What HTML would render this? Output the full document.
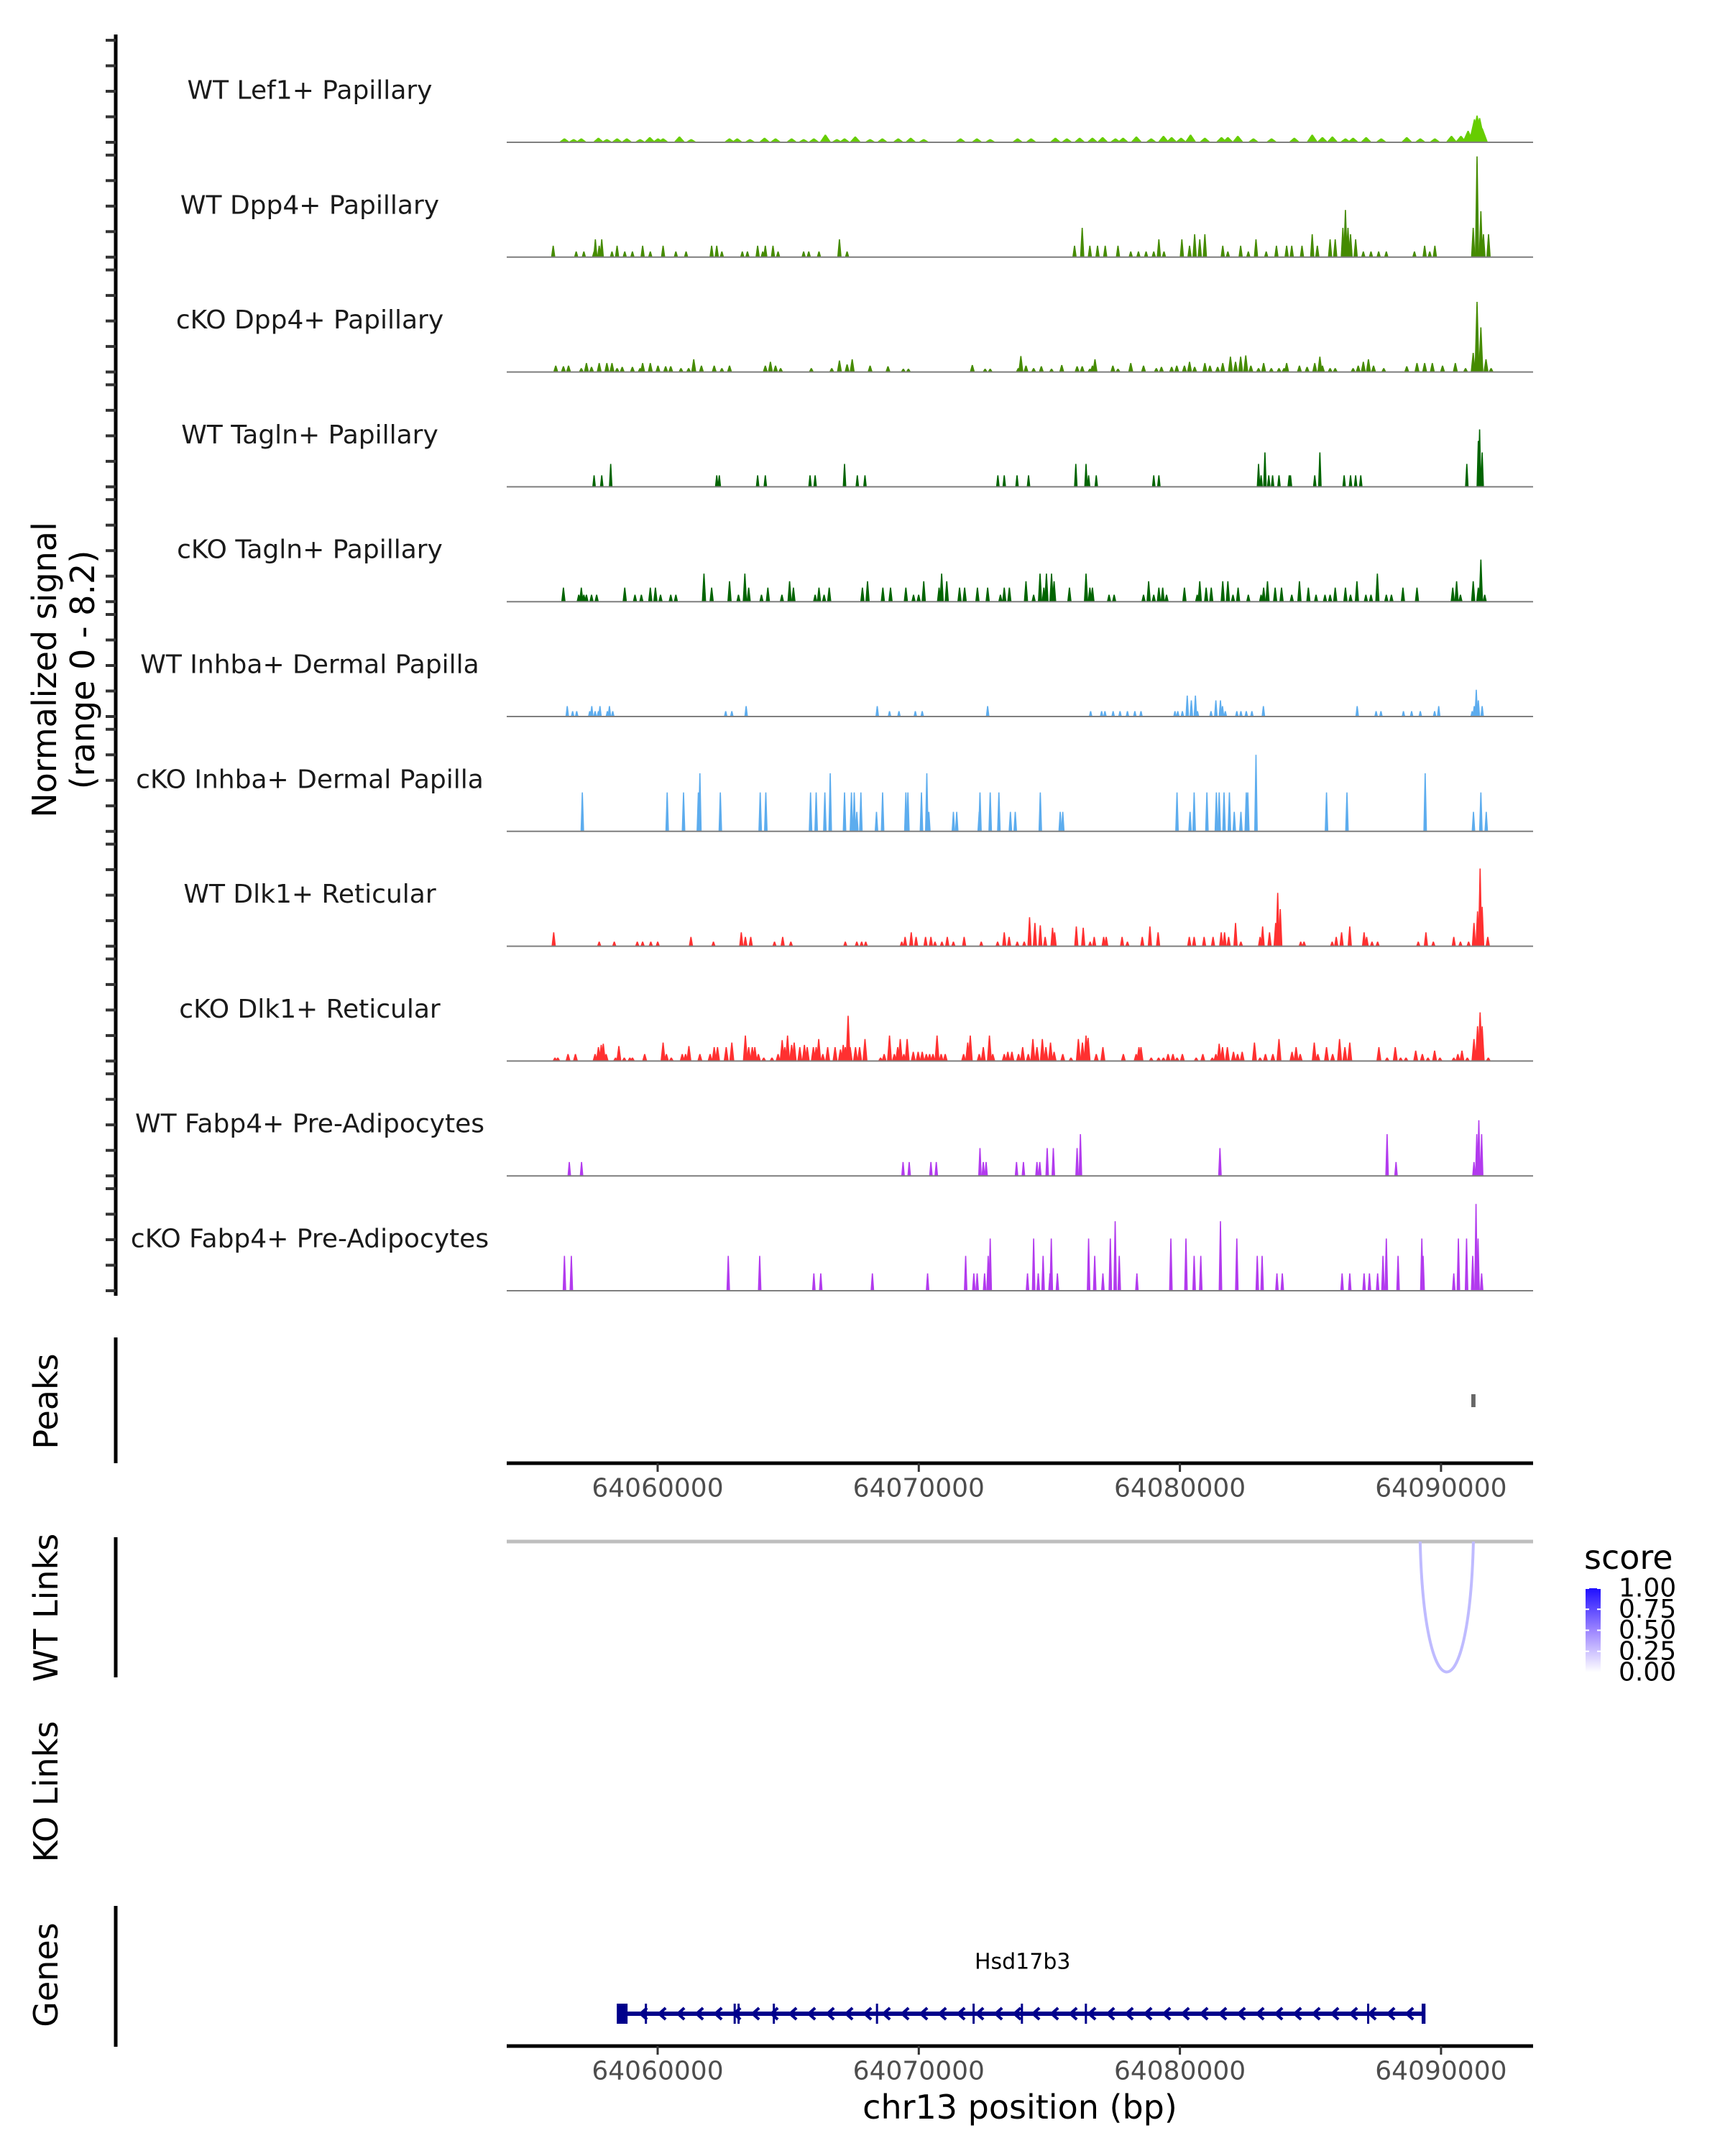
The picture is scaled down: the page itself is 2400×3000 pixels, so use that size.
<!DOCTYPE html>
<html><head><meta charset="utf-8"><title>Coverage plot chr13 Hsd17b3</title>
<style>
html,body{margin:0;padding:0;background:#fff;}
svg{display:block;}
text{font-family:"DejaVu Sans","Liberation Sans",sans-serif;}
</style></head>
<body>
<svg id="chart" xmlns="http://www.w3.org/2000/svg" width="2400" height="3000" viewBox="0 0 2400 3000">
<defs>
<linearGradient id="scoreGrad" x1="0" y1="0" x2="0" y2="1">
<stop offset="0" stop-color="#1f0fff"/><stop offset="0.5" stop-color="#9c85ff"/><stop offset="1" stop-color="#ffffff"/>
</linearGradient>
</defs>
<g id="tracks"></g>
<line x1="161" y1="48" x2="161" y2="1803" stroke="#000" stroke-width="5"/>
<g id="yticks"></g>
<text transform="translate(78,932) rotate(-90)" text-anchor="middle" font-size="46" fill="#000">Normalized signal</text>
<text transform="translate(131,932) rotate(-90)" text-anchor="middle" font-size="46" fill="#000">(range 0 - 8.2)</text>

<line x1="161" y1="1861" x2="161" y2="2036" stroke="#000" stroke-width="5"/>
<text transform="translate(80,1950) rotate(-90)" text-anchor="middle" font-size="46">Peaks</text>
<g id="peaks"></g>
<g id="xaxis1"></g>

<line x1="161" y1="2139" x2="161" y2="2334" stroke="#000" stroke-width="5"/>
<text transform="translate(80,2237) rotate(-90)" text-anchor="middle" font-size="46">WT Links</text>
<g id="links"></g>
<text transform="translate(80,2493) rotate(-90)" text-anchor="middle" font-size="46">KO Links</text>

<g>
<text x="2204" y="2167" font-size="46" dominant-baseline="central">score</text>
<rect x="2206" y="2210" width="21" height="117" fill="url(#scoreGrad)"/>
<g id="legendTicks"></g>
</g>

<line x1="161" y1="2652" x2="161" y2="2848" stroke="#000" stroke-width="5"/>
<text transform="translate(80,2748) rotate(-90)" text-anchor="middle" font-size="46">Genes</text>
<g id="genes"></g>
<g id="xaxis2"></g>
<text x="1419" y="2932" text-anchor="middle" dominant-baseline="central" font-size="46">chr13 position (bp)</text>
</svg>
<script>
// ---- data ----
// signal positions: bin index (bin size signalBinBp) from signalStartBp; values: normalized signal
const signalStartBp = 64050323;
const signalBinBp = 978.7;
// other features: kb offset from regionStartBp
const regionStartBp = 64050000;
const xTickBp = [64060000, 64070000, 64080000, 64090000];
const xTickLabels = ["64060000", "64070000", "64080000", "64090000"];
const trackNames = ["WT Lef1+ Papillary","WT Dpp4+ Papillary","cKO Dpp4+ Papillary","WT Tagln+ Papillary","cKO Tagln+ Papillary","WT Inhba+ Dermal Papilla","cKO Inhba+ Dermal Papilla","WT Dlk1+ Reticular","cKO Dlk1+ Reticular","WT Fabp4+ Pre-Adipocytes","cKO Fabp4+ Pre-Adipocytes"];

const lef1WtPos = [6.24,7.57,8.68,9.58,10.1,10.74,12.7,14.07,15.13,16.45,17.62,18.68,19.79,21.74,22.38,23.97,25.45,26.4,27.3,28.62,29.68,30.37,30.74,31.95,32.59,33.91,35.5,36.29,37.61,39.2,39.73,40.95,41.32,41.6,41.85,41.95,42.05,42.15,6.6,6.9,7.9,8.3,9.2,9.9,11.2,13.0,13.5,14.5,15.6,16.0,16.9,17.2,18.2,19.3,20.3,22.9,24.5,25.9,26.9,27.8,28.1,29.2,30.0,31.3,32.2,33.2,34.8,35.9,36.8,37.1,38.2,40.3];
const lef1WtVal = [0.3,0.35,0.3,0.4,0.3,0.45,0.3,0.35,0.3,0.6,0.45,0.3,0.35,0.3,0.3,0.3,0.35,0.35,0.4,0.45,0.5,0.35,0.6,0.4,0.5,0.3,0.6,0.45,0.4,0.4,0.3,0.5,0.5,0.9,1.8,2.1,1.9,1.1,0.25,0.3,0.25,0.3,0.25,0.3,0.25,0.3,0.25,0.3,0.25,0.3,0.25,0.3,0.25,0.3,0.25,0.25,0.3,0.3,0.35,0.3,0.35,0.3,0.4,0.35,0.4,0.3,0.35,0.4,0.3,0.35,0.3,0.3];

const dpp4WtPos = [5.8,6.7,7.0,7.4,7.45,7.6,7.7,8.1,8.3,8.6,8.9,9.3,9.6,10.1,10.6,11.0,12.0,12.2,12.4,13.2,13.4,13.8,14.0,14.1,14.4,14.6,15.6,15.8,16.2,17.0,17.3,26.2,26.5,26.8,27.1,27.4,27.9,28.4,28.7,29.0,29.3,29.5,29.7,30.4,30.7,30.9,31.1,31.3,32.0,32.2,32.7,33.0,33.3,33.7,34.1,34.5,34.7,35.1,35.5,35.7,36.2,36.4,36.7,36.8,36.9,37.0,37.2,37.5,37.8,38.1,38.4,39.5,39.9,40.1,40.3,41.8,41.95,42.1,42.2,42.4];
const dpp4WtVal = [0.9,0.45,0.45,0.45,1.4,0.9,1.4,0.45,0.9,0.45,0.45,0.9,0.45,0.9,0.45,0.45,0.9,0.9,0.45,0.45,0.45,0.9,0.45,0.9,0.9,0.45,0.45,0.45,0.45,1.4,0.45,0.9,2.3,0.9,0.9,0.9,0.9,0.45,0.45,0.45,0.45,1.4,0.45,1.4,0.9,1.8,1.4,1.8,0.9,0.45,0.9,0.45,1.4,0.45,0.9,0.9,0.9,0.9,1.8,0.9,1.4,1.4,2.3,3.7,2.3,1.8,1.4,0.45,0.45,0.45,0.45,0.45,0.9,0.45,0.9,2.3,7.9,3.6,1.8,1.8];

const dpp4KoPos = [5.9,6.2,6.4,6.9,7.1,7.3,7.6,7.9,8.1,8.3,8.5,8.9,9.2,9.3,9.6,9.9,10.2,10.4,10.8,11.1,11.3,11.6,12.1,12.4,12.7,14.1,14.3,14.5,14.7,15.9,16.7,17.0,17.3,17.5,18.2,18.9,19.5,19.7,22.2,22.7,22.9,24.0,24.1,24.3,24.6,24.9,25.3,25.7,26.3,26.5,26.8,26.9,27.0,27.7,27.9,28.4,28.9,29.4,29.6,30.0,30.2,30.5,30.7,30.9,31.3,31.5,31.8,32.0,32.3,32.5,32.7,32.9,33.1,33.4,33.6,33.9,34.2,34.4,34.5,35.0,35.3,35.6,35.8,35.9,36.2,36.4,37.1,37.3,37.5,37.7,37.9,38.3,39.2,39.6,39.9,40.2,40.6,41.1,41.5,41.8,41.95,42.1,42.3,42.5];
const dpp4KoVal = [0.5,0.45,0.5,0.3,0.7,0.4,0.7,0.7,0.7,0.3,0.4,0.4,0.3,0.7,0.7,0.5,0.45,0.45,0.3,0.3,1.0,0.5,0.5,0.3,0.5,0.5,0.8,0.5,0.3,0.3,0.3,0.9,0.6,1.0,0.5,0.45,0.25,0.25,0.55,0.25,0.25,0.3,1.25,0.5,0.3,0.45,0.25,0.55,0.45,0.45,0.25,0.5,1.0,0.5,0.25,0.7,0.5,0.3,0.4,0.4,0.5,0.5,0.8,0.4,0.7,0.5,0.4,0.7,1.2,0.8,1.2,1.3,0.5,0.3,0.7,0.3,0.3,0.3,0.7,0.5,0.4,0.7,1.2,0.5,0.3,0.3,0.3,0.5,0.8,1.0,0.5,0.3,0.45,0.7,0.7,0.7,0.5,0.7,0.3,1.5,5.5,3.5,1.0,0.3];

const taglnWtPos = [7.4,7.7,8.05,12.2,12.3,13.8,14.1,15.85,16.05,17.2,17.7,18.0,23.2,23.45,23.95,24.4,26.25,26.65,26.75,27.05,29.3,29.5,33.4,33.5,33.65,33.8,33.95,34.2,34.6,34.65,35.6,35.8,36.75,37.0,37.2,37.4,41.55,42.0,42.05,42.15];
const taglnWtVal = [0.9,0.9,1.8,0.9,0.9,0.9,0.9,0.9,0.9,1.8,0.9,0.9,0.9,0.9,0.9,0.9,1.8,1.8,0.9,0.9,0.9,0.9,1.8,0.9,2.7,0.9,0.9,0.9,0.9,0.9,0.9,2.7,0.9,0.9,0.9,0.9,1.8,3.6,4.5,2.7];

const taglnKoPos = [6.2,6.8,6.9,7.0,7.1,7.3,7.5,8.6,9.0,9.25,9.6,9.8,10.0,10.4,10.6,11.7,12.0,12.7,13.05,13.3,13.45,13.95,14.2,14.75,15.05,15.2,16.05,16.2,16.4,16.6,17.9,18.1,18.7,19.0,19.6,19.9,20.1,20.3,20.9,21.0,21.2,21.7,21.9,22.4,22.8,23.3,23.45,23.65,24.3,24.6,24.85,25.0,25.1,25.3,25.4,26.0,26.65,26.8,26.9,27.55,27.75,28.9,29.1,29.3,29.5,29.65,29.8,30.5,31.0,31.1,31.35,31.55,32.0,32.2,32.4,32.6,33.0,33.5,33.6,33.75,34.05,34.3,34.7,35.0,35.35,35.65,36.0,36.2,36.4,36.8,37.0,37.25,37.6,37.8,38.05,38.4,38.6,39.05,39.6,41.0,41.15,41.3,41.8,42.0,42.1,42.25];
const taglnKoVal = [1.1,0.55,1.1,0.55,0.55,0.55,0.55,1.1,0.55,0.55,1.1,1.1,0.55,0.55,0.55,2.2,1.1,1.6,0.55,2.2,1.1,0.55,1.1,0.55,1.6,1.1,0.55,1.1,0.55,1.1,1.1,1.6,1.1,1.1,1.1,0.55,0.55,1.6,1.1,2.2,1.6,1.1,1.1,1.1,1.1,0.55,1.1,1.1,1.6,0.55,2.2,1.1,2.2,2.2,1.6,1.1,2.2,1.1,1.1,0.55,0.55,0.55,1.6,0.55,1.1,1.1,0.55,1.1,0.55,1.6,1.1,1.1,1.6,1.6,0.55,1.1,0.55,0.55,1.1,1.6,1.1,1.1,0.55,1.6,1.1,0.55,0.55,0.55,1.1,1.1,0.55,1.6,0.55,0.55,2.2,0.55,0.55,1.1,1.1,1.1,1.6,0.55,1.6,1.1,3.3,0.55];

const inhbaWtPos = [6.35,6.56,6.72,7.23,7.31,7.44,7.57,7.63,7.92,8.0,8.13,12.55,12.79,13.35,18.48,18.96,19.33,19.97,20.24,22.8,26.83,27.26,27.39,27.71,27.98,28.27,28.56,28.8,30.13,30.24,30.42,30.61,30.77,30.93,31.01,31.54,31.73,31.91,31.99,32.1,32.55,32.71,32.92,33.14,33.59,37.26,38.0,38.19,39.07,39.39,39.73,40.29,40.45,41.76,41.84,41.92,42.0,42.15];
const inhbaWtVal = [0.82,0.42,0.42,0.42,0.82,0.42,0.42,0.82,0.42,0.82,0.42,0.42,0.42,0.82,0.82,0.42,0.42,0.42,0.42,0.82,0.42,0.42,0.42,0.42,0.42,0.42,0.42,0.42,0.42,0.42,0.42,1.64,1.27,1.64,0.42,0.42,1.27,1.27,0.82,0.42,0.42,0.42,0.42,0.42,0.82,0.82,0.42,0.42,0.42,0.42,0.42,0.42,0.82,0.42,0.82,2.1,1.27,0.82];

const inhbaKoPos = [6.94,10.26,10.9,11.48,11.54,12.34,13.9,14.12,15.87,16.09,16.43,16.64,17.2,17.47,17.58,17.68,17.84,18.45,18.69,19.6,19.68,20.21,20.42,20.5,21.46,21.59,22.47,22.5,22.9,23.24,23.69,23.88,24.86,25.64,25.74,30.21,30.72,30.88,31.38,31.75,31.86,32.05,32.26,32.45,32.71,32.92,32.98,33.3,36.06,36.86,39.92,41.81,42.1,42.31];
const inhbaKoVal = [3.05,3.05,3.05,3.05,4.55,3.05,3.05,3.05,3.05,3.05,3.05,4.55,3.05,3.05,3.05,1.53,3.05,1.53,3.05,3.05,3.05,3.05,4.55,1.53,1.53,1.53,1.53,3.05,3.05,3.05,1.53,1.53,3.05,1.53,1.53,3.05,1.53,3.05,3.05,3.05,3.05,3.05,3.05,1.53,1.53,3.05,3.05,6.0,3.05,3.05,4.55,1.53,3.05,1.53];

const dlk1WtPos = [5.82,7.6,8.19,9.09,9.3,9.62,9.89,11.19,12.07,13.16,13.32,13.53,14.46,14.78,15.1,17.23,17.68,17.87,18.03,19.44,19.57,19.81,20.0,20.37,20.58,20.74,21.01,21.22,21.46,21.88,22.55,23.19,23.45,23.64,23.96,24.23,24.44,24.65,24.86,25.05,25.34,25.42,26.27,26.54,26.81,26.97,27.34,27.44,28.06,28.27,28.85,29.15,29.47,30.69,30.88,31.27,31.62,31.94,32.07,32.23,32.5,32.71,33.46,33.56,33.83,34.07,34.15,34.25,35.05,35.18,36.28,36.44,36.65,36.97,37.53,37.63,37.84,38.06,39.65,39.95,40.24,41.04,41.3,41.62,41.83,41.97,42.07,42.15,42.37];
const dlk1WtVal = [1.09,0.36,0.36,0.36,0.36,0.36,0.36,0.73,0.36,1.09,0.73,0.73,0.36,0.73,0.36,0.36,0.36,0.36,0.36,0.36,0.73,1.09,0.73,0.73,0.73,0.36,0.36,0.73,0.36,0.73,0.36,0.36,1.09,0.73,0.36,0.36,2.27,1.82,1.64,0.73,1.45,1.09,1.55,1.45,0.36,0.73,0.73,0.73,0.73,0.36,0.73,1.55,1.09,0.73,0.73,0.73,0.73,1.09,1.09,0.73,1.82,0.36,0.73,1.55,1.09,1.82,4.18,2.91,0.36,0.36,0.36,0.73,1.09,1.55,1.09,0.73,0.36,0.36,0.36,1.09,0.36,0.73,0.36,0.36,1.82,2.73,6.09,3.09,0.73];

const dlk1KoPos = [5.87,5.98,6.38,6.67,7.44,7.57,7.68,7.76,7.87,8.24,8.37,8.58,8.8,8.9,9.38,10.1,10.23,10.42,10.85,10.98,11.11,11.54,11.94,12.1,12.23,12.57,12.79,13.32,13.45,13.59,13.69,13.83,14.04,14.36,14.6,14.76,14.86,14.97,15.13,15.23,15.45,15.63,15.74,15.98,16.09,16.19,16.35,16.54,16.83,17.04,17.15,17.23,17.34,17.42,17.63,17.79,18.0,18.61,18.75,18.96,19.15,19.28,19.38,19.52,19.65,19.89,20.08,20.24,20.4,20.53,20.66,20.82,20.98,21.14,21.86,22.02,22.12,22.47,22.63,22.87,23.0,23.45,23.59,23.75,24.01,24.17,24.39,24.57,24.73,24.94,25.08,25.26,25.4,25.74,26.06,26.35,26.51,26.65,26.73,27.05,27.31,28.11,28.61,28.72,28.8,29.2,29.49,29.68,29.86,30.05,30.21,30.42,30.96,31.22,31.59,31.73,31.86,31.99,32.18,32.42,32.58,32.76,33.24,33.46,33.67,33.96,34.2,34.71,34.87,35.03,35.58,35.72,36.06,36.3,36.57,36.78,36.97,38.11,38.43,38.75,38.96,39.17,39.55,39.81,40.03,40.29,40.5,41.04,41.2,41.36,41.57,41.83,41.97,42.07,42.15,42.39];
const dlk1KoVal = [0.27,0.27,0.55,0.55,0.55,1.09,1.27,1.36,0.55,0.27,1.18,0.27,0.27,0.27,0.55,1.45,0.55,0.27,0.55,0.55,1.18,0.55,0.55,1.09,1.09,1.09,1.45,2.0,1.09,1.09,1.09,0.55,0.27,0.27,0.55,1.64,1.09,2.0,1.27,1.45,1.09,1.27,1.09,1.09,1.09,1.73,0.55,1.09,1.09,0.91,1.27,1.09,3.55,1.09,1.09,1.09,1.73,0.27,0.55,2.0,0.55,1.09,1.73,0.55,1.73,0.73,0.73,0.73,0.55,0.55,0.55,2.0,0.55,0.55,0.55,1.45,2.0,0.55,1.09,2.0,0.55,0.55,0.73,0.73,0.55,1.09,0.55,1.73,1.09,1.73,1.09,1.45,0.73,0.55,0.27,1.73,1.45,2.0,1.82,0.55,1.09,0.55,0.55,1.09,1.09,0.27,0.27,0.27,0.55,0.55,0.27,0.55,0.27,0.55,0.27,0.55,1.36,1.09,1.09,0.73,0.55,0.73,1.45,0.27,0.55,0.55,1.73,0.73,1.09,0.55,1.45,0.55,1.09,0.55,1.73,1.09,1.45,1.09,0.27,1.09,0.27,0.27,0.82,0.55,0.27,0.82,0.27,0.27,0.55,0.82,0.27,1.73,2.73,3.82,2.73,0.27];

const fabp4WtPos = [6.43,6.91,19.49,19.73,20.58,20.79,22.5,22.63,22.74,23.93,24.2,24.73,24.84,25.13,25.37,26.3,26.43,31.89,38.43,38.78,41.83,41.94,42.02,42.13];
const fabp4WtVal = [1.09,1.09,1.09,1.09,1.09,1.09,2.18,1.09,1.09,1.09,1.09,1.09,1.09,2.18,2.18,2.18,3.27,2.18,3.27,1.09,1.09,3.27,4.36,3.27];

const fabp4KoPos = [6.24,6.51,12.65,13.88,16.0,16.27,18.29,20.45,21.94,22.26,22.39,22.68,22.82,22.9,24.36,24.6,24.78,24.97,25.24,25.29,25.53,26.75,26.99,27.31,27.6,27.79,27.95,28.64,29.97,30.56,30.88,31.14,31.91,32.55,33.35,33.54,34.12,34.33,36.67,36.97,37.53,37.74,38.06,38.27,38.4,38.86,39.79,39.84,41.04,41.22,41.54,41.78,41.91,41.99,42.13];
const fabp4KoVal = [2.73,2.73,2.73,2.73,1.36,1.36,1.36,1.36,2.73,1.36,1.36,1.36,2.73,4.09,1.36,4.09,1.36,2.73,1.36,4.09,1.36,4.09,2.73,1.36,4.09,5.45,2.73,1.36,4.09,4.09,2.73,2.73,5.45,4.09,2.73,2.73,1.36,1.36,1.36,1.36,1.36,1.36,1.36,2.73,4.09,2.73,4.09,2.73,1.36,4.09,4.09,2.73,6.8,4.09,1.36];

const peakStartKb = [41.16];
const peakEndKb = [41.32];
const linkStartKb = [39.2];
const linkEndKb = [41.24];
const linkScore = [0.3];
const legendValues = [1.0, 0.75, 0.5, 0.25, 0.0];
const legendLabels = ["1.00", "0.75", "0.50", "0.25", "0.00"];
const geneStartKb = [8.6];
const geneEndKb = [39.35];
const exonKb = [9.55,12.95,13.1,14.45,18.4,22.1,23.95,26.4,37.21,39.3];

// ---- scales ----
const NS = "http://www.w3.org/2000/svg";
function kbToBp(kb){ return regionStartBp + kb*1000; }
function binToBp(b){ return signalStartBp + b*signalBinBp; }
function xScale(bp){ return 915 + (bp - 64060000) * 0.03633; }
const X0 = 705, X1 = 2133;
const baseY0 = 198, trackStep = 159.8, unitPx = 17.75;
function yScale(v, base){ return base - v*unitPx; }
function el(tag, attrs, parent){ const e=document.createElementNS(NS,tag); for(const k in attrs) e.setAttribute(k,attrs[k]); parent.appendChild(e); return e; }

const trackPos = [lef1WtPos,dpp4WtPos,dpp4KoPos,taglnWtPos,taglnKoPos,inhbaWtPos,inhbaKoPos,dlk1WtPos,dlk1KoPos,fabp4WtPos,fabp4KoPos];
const trackVal = [lef1WtVal,dpp4WtVal,dpp4KoVal,taglnWtVal,taglnKoVal,inhbaWtVal,inhbaKoVal,dlk1WtVal,dlk1KoVal,fabp4WtVal,fabp4KoVal];
const trackColor = ["#66CD00","#458B00","#458B00","#006400","#006400","#5CACEE","#5CACEE","#FF3030","#FF3030","#B23AEE","#B23AEE"];
const trackHalfW = [8,3,3.5,2.5,3,2.5,2.5,3,3.5,2.5,2.5];

const tracksG = document.getElementById('tracks');
const yt = document.getElementById('yticks');
trackNames.forEach((name,i)=>{
  const base = baseY0 + i*trackStep;
  const g = el('g',{},tracksG);
  
  
  const lab = el('text',{x:431,y:base-72,'text-anchor':'middle','dominant-baseline':'central','font-size':36,fill:'#1a1a1a'},g);
  lab.textContent = name;
  
  
  const pos = trackPos[i], val = trackVal[i], hw = trackHalfW[i];
  pos.forEach((p,j)=>{
    const x = xScale(binToBp(p)), y = yScale(val[j], base);
    const poly = el('polygon',{points:`${x-hw},${base} ${x-0.8},${y} ${x+0.8},${y} ${x+hw},${base}`,fill:trackColor[i]},g);
    
    
  });
  const bl = el('line',{x1:X0,y1:base,x2:X1,y2:base,stroke:'#7f7f7f','stroke-width':2},g);
  
  
  for(let k=0;k<5;k++){
    const ty = base - k*35.5;
    const t = el('line',{x1:147,y1:ty,x2:161,y2:ty,stroke:'#333','stroke-width':4},yt);
    
    
  }
});

// peaks
const pg = document.getElementById('peaks');
peakStartKb.forEach((s,i)=>{
  const x1 = xScale(kbToBp(s)), x2 = xScale(kbToBp(peakEndKb[i]));
  const r = el('rect',{x:x1,y:1940,width:Math.max(x2-x1,5),height:18,fill:'#666'},pg);
  
  
});

function drawXAxis(gid, y){
  const g = document.getElementById(gid);
  el('line',{x1:X0,y1:y,x2:X1,y2:y,stroke:'#000','stroke-width':5},g);
  xTickBp.forEach((bp,i)=>{
    const x = xScale(bp);
    const t = el('line',{x1:x,y1:y,x2:x,y2:y+12,stroke:'#333','stroke-width':3},g);
    
    
    const tx = el('text',{x:x,y:y+35,'text-anchor':'middle','dominant-baseline':'central','font-size':36,fill:'#4d4d4d'},g);
    tx.textContent = xTickLabels[i];
    
    
  });
}
drawXAxis('xaxis1', 2036);
drawXAxis('xaxis2', 2847);

// links
const lg = document.getElementById('links');
const ll = el('line',{x1:X0,y1:2145,x2:X1,y2:2145,stroke:'#bebebe','stroke-width':5},lg);


function scoreColor(s){ const r=Math.round(255-(255-43)*s), g=Math.round(255-(255-27)*s); return `rgb(${r},${g},255)`; }
linkStartKb.forEach((s,i)=>{
  const x1 = xScale(kbToBp(s)), x2 = xScale(kbToBp(linkEndKb[i]));
  const depth = 2327, top = 2145;
  const d = `M${x1},${top} C${x1+(x2-x1)*0.08},${depth+60} ${x2-(x2-x1)*0.08},${depth+60} ${x2},${top}`;
  const p = el('path',{d:d,fill:'none',stroke:scoreColor(linkScore[i]),'stroke-width':4},lg);
  
  
});

// legend ticks
const lt = document.getElementById('legendTicks');
legendValues.forEach((v,i)=>{
  const y = 2327 - v*117;
  el('line',{x1:2206,y1:y,x2:2211,y2:y,stroke:'#fff','stroke-width':2},lt);
  el('line',{x1:2222,y1:y,x2:2227,y2:y,stroke:'#fff','stroke-width':2},lt);
  const t = el('text',{x:2252,y:y,'dominant-baseline':'central','font-size':36,fill:'#000'},lt);
  t.textContent = legendLabels[i];
  
  
});

// gene
const gg = document.getElementById('genes');
geneStartKb.forEach((s,i)=>{
  const gx1 = xScale(kbToBp(s)), gx2 = xScale(kbToBp(geneEndKb[i]));
  const gy = 2802;
  const name = el('text',{x:(gx1+gx2)/2,y:2730,'text-anchor':'middle','dominant-baseline':'central','font-size':30,fill:'#000'},gg);
  name.textContent = 'Hsd17b3';
  
  
  const ln = el('line',{x1:gx1,y1:gy,x2:gx2,y2:gy,stroke:'#00008B','stroke-width':6},gg);
  
  
  el('rect',{x:gx1-6,y:gy-14,width:15,height:28,fill:'#00008B'},gg);
  el('rect',{x:gx2-3,y:gy-14,width:5,height:28,fill:'#00008B'},gg);
  for(let x=gx1+30; x<gx2-6; x+=26){
    const c = el('polyline',{points:`${x+6},${gy-8} ${x-3},${gy} ${x+6},${gy+8}`,fill:'none',stroke:'#00008B','stroke-width':4},gg);
    
    
  }
  exonKb.forEach(e=>{
    const x = xScale(kbToBp(e));
    const r = el('rect',{x:x-1.5,y:gy-14,width:3,height:28,fill:'#00008B'},gg);
    
    
  });
});
</script>
</body></html>
